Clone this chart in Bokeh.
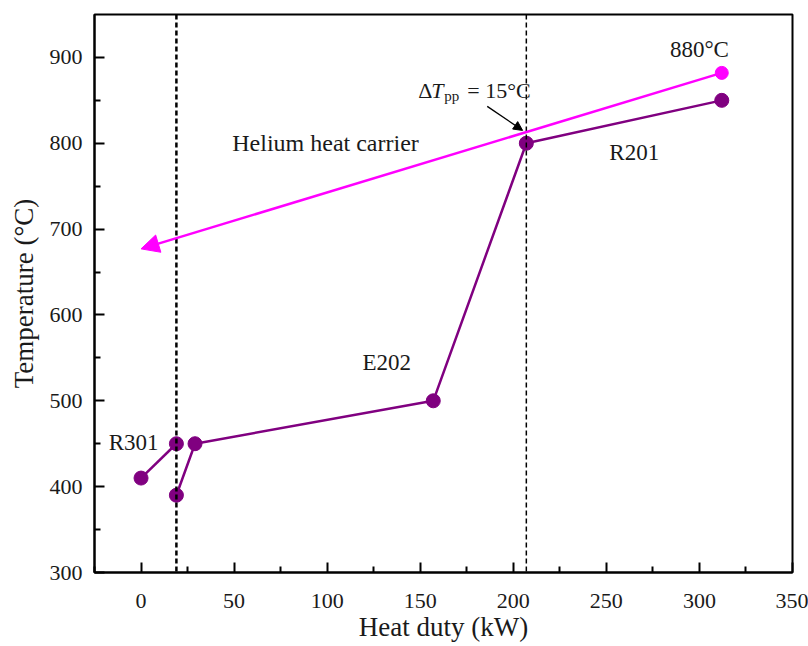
from bokeh.plotting import figure
from bokeh.models import (Range1d, FixedTicker, Span, Label, Arrow, NormalHead)
from bokeh.embed import file_html
from bokeh.resources import INLINE

# Data
duty_a = [0, 19]
temp_a = [410, 450]
duty_b = [19, 29, 157, 207, 312]
temp_b = [390, 450, 500, 800, 850]
helium_duty = [312, 0]
helium_temp = [882, 677]
pinch_duty = 207
r301_duty = 19
x_ticks = [0, 50, 100, 150, 200, 250, 300, 350]
y_ticks = [300, 400, 500, 600, 700, 800, 900]

FONT = "Liberation Serif"
PURPLE = "#800080"
MAGENTA = "#ff00ff"
TXT = "#1a1a1a"

p = figure(width=808, height=646, output_backend="svg", toolbar_location=None,
           x_range=Range1d(-25, 350), y_range=Range1d(300, 950),
           min_border_left=94, min_border_right=16, min_border_top=14, min_border_bottom=74)
p.grid.visible = False
p.outline_line_color = "black"
p.outline_line_width = 2

for ax in (p.xaxis[0], p.yaxis[0]):
    ax.axis_line_width = 2
    ax.major_tick_in = 10
    ax.major_tick_out = 0
    ax.minor_tick_in = 6
    ax.minor_tick_out = 0
    ax.major_tick_line_width = 2
    ax.minor_tick_line_width = 2
    ax.major_label_text_font = FONT
    ax.major_label_text_font_size = "22px"
    ax.major_label_text_color = TXT
    ax.axis_label_text_font = FONT
    ax.axis_label_text_font_size = "27px"
    ax.axis_label_text_font_style = "normal"
    ax.axis_label_text_color = TXT

p.xaxis.ticker = FixedTicker(ticks=x_ticks, minor_ticks=[-25, 25, 75, 125, 175, 225, 275, 325])
p.yaxis.ticker = FixedTicker(ticks=y_ticks, minor_ticks=[350, 450, 550, 650, 750, 850])
p.xaxis.axis_label = "Heat duty (kW)"
p.yaxis.axis_label = "Temperature (°C)"
p.xaxis.major_label_standoff = 21
p.yaxis.major_label_standoff = 12
p.xaxis.axis_label_standoff = 1
p.yaxis.axis_label_standoff = 8

# vertical dashed lines
p.add_layout(Span(location=r301_duty, dimension="height", line_color="black",
                  line_width=2.5, line_dash="5 3"))
p.add_layout(Span(location=pinch_duty, dimension="height", line_color="black",
                  line_width=1.5, line_dash="5 3"))

# helium line with arrow
p.add_layout(Arrow(x_start=helium_duty[0], y_start=helium_temp[0],
                   x_end=helium_duty[1], y_end=helium_temp[1],
                   line_color=MAGENTA, line_width=2.5,
                   end=NormalHead(size=18, fill_color=MAGENTA, line_color=MAGENTA, line_width=1)))
p.scatter([helium_duty[0]], [helium_temp[0]], size=13, color=MAGENTA)

# process lines
p.line(duty_a, temp_a, line_color=PURPLE, line_width=2.5)
p.line(duty_b, temp_b, line_color=PURPLE, line_width=2.5)
p.scatter(duty_a + duty_b, temp_a + temp_b, size=14, color=PURPLE)

# pinch arrow
p.add_layout(Arrow(x_start=186, y_start=843, x_end=205, y_end=815,
                   line_color="black", line_width=1.3,
                   end=NormalHead(size=9, fill_color="black", line_color="black")))

def lab(x, y, t, size="23px", style="normal", align="left", xo=0, yo=0):
    p.add_layout(Label(x=x, y=y, text=t, text_font=FONT, text_font_size=size,
                       text_font_style=style, text_align=align, text_baseline="alphabetic",
                       text_color=TXT, x_offset=xo, y_offset=yo))

lab(300, 909, "880°C", align="center")
lab(49, 800, "Helium heat carrier", size="24px")
lab(265, 789, "R201", align="center")
lab(132, 545, "E202", align="center")
lab(-4, 451, "R301", align="center")
# ΔT_pp = 15°C
lab(149, 861, "Δ", size="22px")
lab(149, 861, "T", size="22px", style="italic", xo=13)
lab(149, 861, "pp", size="15px", xo=26, yo=-5)
lab(149, 861, "= 15°C", size="22px", xo=49)

open("out.html", "w").write(file_html(p, INLINE))
